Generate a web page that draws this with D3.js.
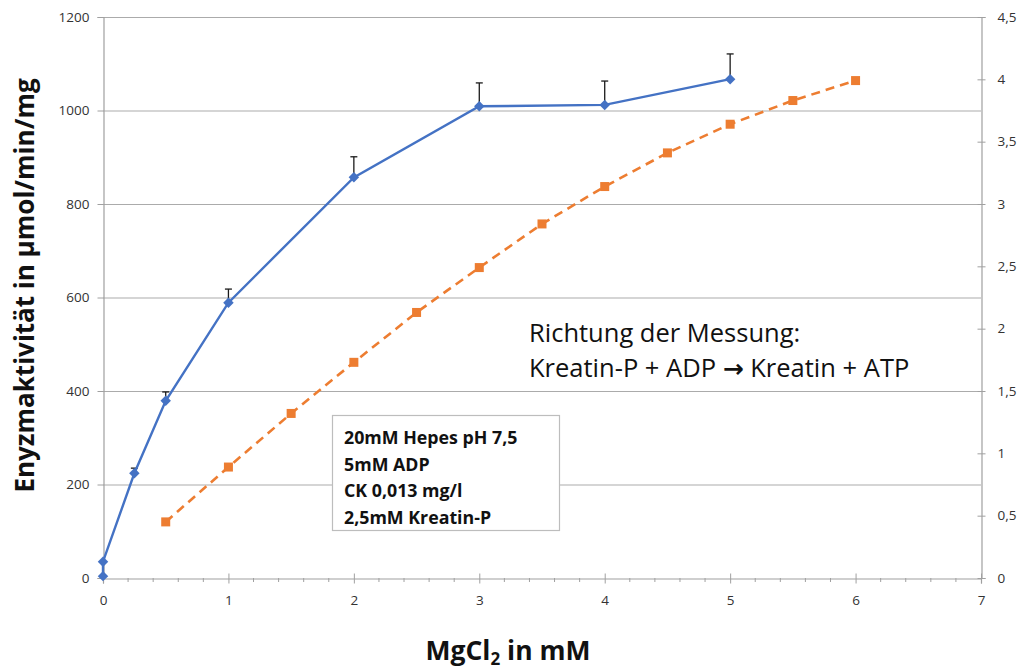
<!DOCTYPE html>
<html>
<head>
<meta charset="utf-8">
<script src="https://cdn.jsdelivr.net/npm/d3@7"></script>
<style>
  html, body { margin: 0; padding: 0; background: #fff; }
  svg { display: block; font-family: "Open Sans", "DejaVu Sans", sans-serif; }
</style>
</head>
<body>
<svg id="chart" width="1020" height="670"></svg>
<script>
// MgCl2 concentration (mM) and enzyme activity (µmol/min/mg), left axis
const activityX = [0, 0, 0.25, 0.5, 1, 2, 3, 4, 5];
const activityY = [4, 35, 224, 379, 589, 857, 1009, 1012, 1067];
const activityErr = [0, 0, 11, 19, 29, 44, 50, 51, 54];

// second series on the right axis
const rightX = [0.5, 1, 1.5, 2, 2.5, 3, 3.5, 4, 4.5, 5, 5.5, 6];
const rightY = [0.45, 0.89, 1.32, 1.73, 2.13, 2.49, 2.84, 3.14, 3.41, 3.64, 3.83, 3.99];

// axis ticks
const xTicks = [0, 1, 2, 3, 4, 5, 6, 7];
const leftTicks = [0, 200, 400, 600, 800, 1000, 1200];
const rightTicks = [0, 0.5, 1, 1.5, 2, 2.5, 3, 3.5, 4, 4.5];

// text
const yTitle = "Enyzmaktivität in µmol/min/mg";
const noteLines = ["20mM Hepes pH 7,5", "5mM ADP", "CK 0,013 mg/l", "2,5mM Kreatin-P"];

const svg = d3.select("#chart");
const L = 103, R = 981, T = 17, B = 578;

const x = d3.scaleLinear().domain([0, 7]).range([L, R]);
const yL = d3.scaleLinear().domain([0, 1200]).range([B, T]);
const yR = d3.scaleLinear().domain([0, 4.5]).range([B, T]);

const fmt = d => String(d).replace(".", ",");
const gridColor = "#ababab";
const axisColor = "#a0a0a0";
const labelColor = "#333";

// horizontal gridlines
svg.append("g").selectAll("line").data(leftTicks.filter(d => d > 0)).join("line")
  .attr("x1", L).attr("x2", R)
  .attr("y1", d => yL(d) + 0.5).attr("y2", d => yL(d) + 0.5)
  .attr("stroke", gridColor).attr("stroke-width", 1.2);

// left axis
const gLeft = svg.append("g").attr("transform", `translate(${L + 0.5},0)`)
  .call(d3.axisLeft(yL).tickValues(leftTicks).tickSize(6).tickPadding(8).tickFormat(d3.format("d")));
gLeft.select(".domain").attr("stroke", axisColor).attr("stroke-width", 1.2);
gLeft.selectAll(".tick line").attr("stroke", axisColor);
gLeft.selectAll(".tick text").attr("fill", labelColor).style("font-size", "13.5px")
  .style("font-family", "'Open Sans', sans-serif");

// right axis (ticks cross the axis line)
const gRight = svg.append("g").attr("transform", `translate(${R + 0.5},0)`)
  .call(d3.axisRight(yR).tickValues(rightTicks).tickSize(4).tickPadding(12).tickFormat(fmt));
gRight.select(".domain").attr("stroke", axisColor).attr("stroke-width", 1.2);
gRight.selectAll(".tick line").attr("stroke", axisColor).attr("x1", -4);
gRight.selectAll(".tick text").attr("fill", labelColor).style("font-size", "13.5px")
  .style("font-family", "'Open Sans', sans-serif");

// x axis: major ticks cross the axis, minor ticks every 0.2
const minor = d3.range(0, 7.001, 0.2).filter(v => Math.abs(v - Math.round(v)) > 1e-6);
svg.append("g").selectAll("line").data(minor).join("line")
  .attr("x1", d => x(d)).attr("x2", d => x(d))
  .attr("y1", B).attr("y2", B + 4)
  .attr("stroke", axisColor);
const gX = svg.append("g").attr("transform", `translate(0,${B + 0.5})`)
  .call(d3.axisBottom(x).tickValues(xTicks).tickSize(5).tickPadding(12).tickFormat(d3.format("d")));
gX.select(".domain").attr("stroke", axisColor).attr("stroke-width", 1.2);
gX.selectAll(".tick line").attr("stroke", axisColor).attr("y1", -5);
gX.selectAll(".tick text").attr("fill", labelColor).style("font-size", "13.5px")
  .style("font-family", "'Open Sans', sans-serif");

// right-axis series: dashed orange line with square markers
const orange = "#ED7D31";
svg.append("path")
  .datum(rightX.map((d, i) => [d, rightY[i]]))
  .attr("d", d3.line().x(d => x(d[0])).y(d => yR(d[1])))
  .attr("fill", "none").attr("stroke", orange)
  .attr("stroke-width", 2.6).attr("stroke-dasharray", "9,6");
svg.append("g").selectAll("rect").data(rightX.map((d, i) => [d, rightY[i]])).join("rect")
  .attr("x", d => x(d[0]) - 4.5).attr("y", d => yR(d[1]) - 4.5)
  .attr("width", 9).attr("height", 9).attr("fill", orange);

// activity series: error bars (upper), line and diamond markers
const blue = "#4472C4";
const pts = activityX.map((d, i) => ({ x: d, y: activityY[i], e: activityErr[i] }));
const eb = svg.append("g").selectAll("g").data(pts.filter(p => p.e > 0)).join("g");
eb.append("line")
  .attr("x1", p => x(p.x)).attr("x2", p => x(p.x))
  .attr("y1", p => yL(p.y)).attr("y2", p => yL(p.y + p.e))
  .attr("stroke", "#1a1a1a").attr("stroke-width", 1.3);
eb.append("line")
  .attr("x1", p => x(p.x) - 3.5).attr("x2", p => x(p.x) + 3.5)
  .attr("y1", p => yL(p.y + p.e)).attr("y2", p => yL(p.y + p.e))
  .attr("stroke", "#1a1a1a").attr("stroke-width", 1.3);

svg.append("path")
  .datum(pts)
  .attr("d", d3.line().x(p => x(p.x)).y(p => yL(p.y)))
  .attr("fill", "none").attr("stroke", blue).attr("stroke-width", 2.4);
svg.append("g").selectAll("path").data(pts).join("path")
  .attr("d", d3.symbol(d3.symbolDiamond2, 70))
  .attr("transform", p => `translate(${x(p.x)},${yL(p.y)})`)
  .attr("fill", blue);

// reaction direction annotation
const ann = svg.append("text").attr("x", 529).attr("y", 342)
  .attr("fill", "#111").style("font-size", "25.5px");
ann.append("tspan").attr("x", 529).attr("dy", 0).text("Richtung der Messung:");
const l2 = ann.append("tspan").attr("x", 529).attr("dy", 35);
l2.append("tspan").text("Kreatin-P + ADP ");
l2.append("tspan").style("font-family", "'DejaVu Sans', sans-serif").style("font-weight", "bold")
  .style("font-size", "25px").text("→");
l2.append("tspan").text(" Kreatin + ATP");

// conditions box
svg.append("rect").attr("x", 332.5).attr("y", 415.5).attr("width", 227).attr("height", 115)
  .attr("fill", "#fff").attr("stroke", "#bdbdbd").attr("stroke-width", 1.2);
svg.append("g").selectAll("text").data(noteLines).join("text")
  .attr("x", 344).attr("y", (d, i) => 444 + i * 26.7)
  .attr("fill", "#111").style("font-size", "17.8px").style("font-weight", "bold")
  .text(d => d);

// axis titles
svg.append("text")
  .attr("transform", `translate(34,${(T + B) / 2 - 12}) rotate(-90)`)
  .attr("text-anchor", "middle").attr("fill", "#111")
  .style("font-size", "26px").style("font-weight", "bold")
  .text(yTitle);

const xt = svg.append("text").attr("x", 508).attr("y", 660).attr("text-anchor", "middle")
  .attr("fill", "#111").style("font-size", "26.5px").style("font-weight", "bold");
xt.append("tspan").text("MgCl");
xt.append("tspan").attr("dy", 5).style("font-size", "17px").text("2");
xt.append("tspan").attr("dy", -5).text(" in mM");
</script>
</body>
</html>
